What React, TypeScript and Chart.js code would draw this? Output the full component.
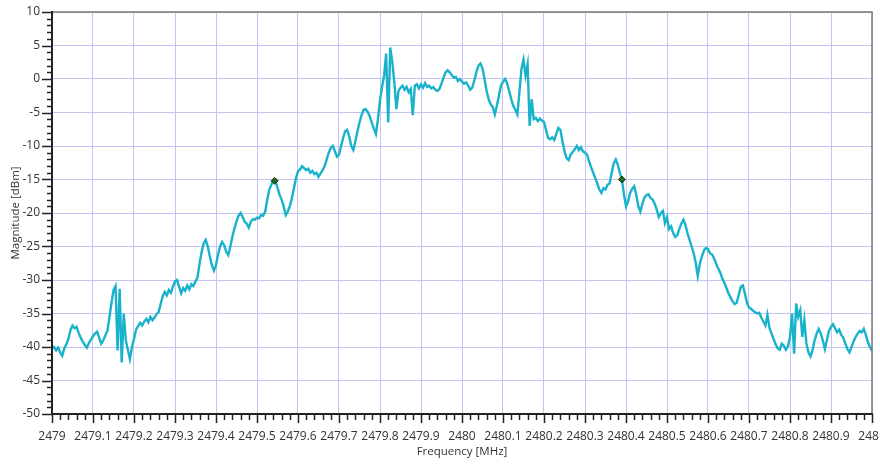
import React, { useEffect, useRef } from "react";
import { Chart, registerables } from "chart.js";

Chart.register(...registerables);

const FREQ_START = 2479.0;
const FREQ_STEP = 0.005;

const MAGNITUDE: number[] = [
  -40.2, -40.0, -40.5, -40.1, -40.8, -41.3, -40.2, -39.6, -38.8, -37.5, -36.8, -37.2, -37.0, -37.9, -38.6, -39.2, -39.7, -40.1, -39.4, -38.9,
  -38.4, -38.0, -37.7, -38.6, -39.5, -39.0, -38.3, -37.6, -35.6, -33.5, -31.5, -30.9, -40.5, -31.3, -42.3, -35.0, -39.0, -40.4, -41.8, -40.0,
  -38.8, -37.4, -36.9, -36.4, -36.8, -36.2, -35.8, -36.3, -35.5, -36.0, -35.6, -35.1, -34.8, -33.6, -32.4, -31.8, -32.3, -31.5, -31.9, -31.0,
  -30.2, -30.0, -31.0, -32.0, -31.2, -31.6, -30.8, -31.4, -30.6, -30.9, -30.2, -29.6, -27.5, -25.8, -24.5, -24.0, -25.0, -26.5, -27.8, -28.6,
  -27.8, -26.2, -25.0, -24.3, -24.8, -25.8, -26.3, -25.0, -23.5, -22.3, -21.3, -20.4, -20.0, -20.6, -21.3, -21.6, -22.2, -21.3, -20.9, -21.0,
  -20.7, -20.8, -20.3, -20.4, -19.8, -18.0, -16.5, -15.8, -15.1, -15.3, -16.2, -17.3, -18.0, -19.0, -20.3, -19.8, -19.0, -17.8, -16.3, -14.8,
  -13.8, -13.5, -13.0, -13.3, -13.6, -13.4, -14.0, -13.7, -14.2, -14.0, -14.6, -14.1, -13.6, -13.0, -12.0, -11.0, -10.3, -10.0, -10.8, -11.6,
  -11.3, -10.0, -8.8, -7.8, -7.6, -8.6, -10.0, -10.6, -9.3, -7.8, -6.5, -5.4, -4.6, -4.5, -4.9, -5.6, -6.5, -7.4, -8.2, -6.0,
  -3.2, -1.2, 0.5, 3.8, -6.5, 4.7, 2.5, -0.5, -4.5, -1.8, -1.3, -1.0, -1.6, -1.2, -2.0, -1.5, -5.4, -1.0, -0.8, -1.4,
  -0.8, -1.3, -0.6, -1.2, -1.0, -1.4, -1.2, -1.6, -1.8, -1.5, -0.7, 0.2, 1.0, 1.3, 1.0, 0.6, 0.2, 0.3, -0.3, 0.0,
  -0.4, -0.7, -0.5, -1.0, -1.6, -1.3, -0.2, 1.0, 2.0, 2.3, 1.6, 0.0, -1.8, -3.0, -3.8, -4.2, -5.3, -4.0, -2.5, -1.0,
  -0.4, 0.0, -0.6, -1.8, -3.0, -4.0, -4.6, -5.3, -2.0, 1.5, 2.9, 0.5, 2.2, -7.0, -3.0, -6.0, -5.8, -6.3, -5.9, -6.2,
  -6.4, -7.6, -8.8, -9.0, -8.7, -9.1, -8.2, -7.3, -7.6, -9.3, -10.8, -11.8, -12.1, -11.3, -10.9, -10.5, -10.0, -10.6, -10.2, -10.8,
  -11.0, -11.3, -12.3, -13.2, -14.0, -14.8, -15.6, -16.5, -17.0, -16.3, -16.5, -15.8, -15.6, -14.0, -12.6, -12.0, -12.8, -14.0, -15.0, -17.2,
  -19.0, -18.3, -17.0, -16.4, -16.0, -17.3, -19.0, -19.8, -18.6, -17.7, -17.3, -17.2, -17.8, -18.0, -18.6, -19.5, -20.6, -20.0, -19.7, -21.5,
  -20.6, -22.4, -22.0, -23.0, -23.6, -23.3, -22.4, -21.6, -21.0, -21.8, -23.0, -24.0, -25.0, -26.0, -27.4, -29.4, -27.6, -26.5, -25.6, -25.2,
  -25.4, -26.0, -26.2, -26.8, -27.6, -28.3, -28.9, -29.8, -30.4, -31.2, -32.0, -32.6, -33.2, -33.6, -33.4, -32.2, -31.0, -30.8, -32.0, -33.4,
  -34.1, -34.3, -34.6, -34.8, -35.0, -34.9, -35.6, -36.2, -36.8, -35.2, -37.2, -38.0, -38.8, -39.6, -40.2, -40.4, -39.5, -39.8, -40.4, -39.9,
  -38.5, -35.0, -41.0, -33.5, -35.5, -34.5, -38.5, -36.0, -39.5, -40.8, -41.4, -40.5, -39.0, -38.0, -37.3, -38.0, -39.0, -40.3, -39.0, -37.6,
  -37.0, -36.6, -37.2, -37.8, -37.4, -38.2, -38.6, -39.5, -40.3, -40.8, -40.0, -39.2, -38.5, -38.0, -37.6, -37.8, -37.3, -38.2, -39.3, -40.0,
  -40.6,
];

const MARKER_FREQ = [2479.543, 2480.39];
const MARKER_MAG = [-15.2, -15.0];

const X_MIN = 2479;
const X_MAX = 2481;
const X_MAJOR = 0.1;
const X_MINOR = 0.02;
const Y_MIN = -50;
const Y_MAX = 10;
const Y_MAJOR = 5;
const Y_MINOR = 1;

const X_TITLE = "Frequency [MHz]";
const Y_TITLE = "Magnitude [dBm]";

const FONT = "'Open Sans', 'Noto Sans', sans-serif";
const TEXT_COLOR = "#333333";
const GRID_COLOR = "#c4c4f0";
const LINE_COLOR = "#19b2cb";

const axisPlugin = {
  id: "axisDecor",
  afterDatasetsDraw(chart: any) {
    const { ctx, chartArea } = chart;
    const xs = chart.scales.x;
    const ys = chart.scales.y;
    const { left, right, top, bottom } = chartArea;
    ctx.save();
    ctx.strokeStyle = "#7a7a7a";
    ctx.lineWidth = 1.5;
    ctx.beginPath();
    ctx.moveTo(left, top);
    ctx.lineTo(right, top);
    ctx.lineTo(right, bottom);
    ctx.stroke();
    ctx.strokeStyle = "#222222";
    ctx.lineWidth = 2;
    ctx.beginPath();
    ctx.moveTo(left, top - 1);
    ctx.lineTo(left, bottom);
    ctx.lineTo(right + 1, bottom);
    ctx.stroke();
    ctx.lineWidth = 1.5;
    const nx = Math.round((X_MAX - X_MIN) / X_MINOR);
    for (let k = 0; k <= nx; k++) {
      const v = X_MIN + k * X_MINOR;
      const px = Math.round(xs.getPixelForValue(v)) + 0.5;
      const major = k % Math.round(X_MAJOR / X_MINOR) === 0;
      ctx.beginPath();
      ctx.moveTo(px, bottom);
      ctx.lineTo(px, bottom + (major ? 9 : 6));
      ctx.stroke();
    }
    const ny = Math.round((Y_MAX - Y_MIN) / Y_MINOR);
    for (let k = 0; k <= ny; k++) {
      const v = Y_MIN + k * Y_MINOR;
      const py = Math.round(ys.getPixelForValue(v)) + 0.5;
      const major = k % Math.round(Y_MAJOR / Y_MINOR) === 0;
      ctx.beginPath();
      ctx.moveTo(left, py);
      ctx.lineTo(left - (major ? 10 : 5), py);
      ctx.stroke();
    }
    ctx.restore();
  },
};

export default function App() {
  const canvasRef = useRef<HTMLCanvasElement | null>(null);

  useEffect(() => {
    const canvas = canvasRef.current;
    if (!canvas) return;
    const spectrum = MAGNITUDE.map((m, i) => ({ x: FREQ_START + i * FREQ_STEP, y: m }));
    const markers = MARKER_FREQ.map((f, i) => ({ x: f, y: MARKER_MAG[i] }));

    const chart = new Chart(canvas, {
      type: "line",
      data: {
        datasets: [
          {
            label: "Spectrum",
            data: spectrum,
            borderColor: LINE_COLOR,
            borderWidth: 2.4,
            pointRadius: 0,
            tension: 0,
            order: 2,
          },
          {
            label: "Markers",
            data: markers,
            showLine: false,
            pointStyle: "rectRot",
            pointRadius: 3.5,
            pointBackgroundColor: "#1f6a1f",
            pointBorderColor: "#0f3f0f",
            pointBorderWidth: 1,
            order: 1,
          },
        ],
      },
      plugins: [axisPlugin],
      options: {
        responsive: false,
        animation: false,
        events: [],
        layout: { padding: { top: 12, right: 8, left: 0, bottom: 0 } },
        plugins: { legend: { display: false }, tooltip: { enabled: false } },
        scales: {
          x: {
            type: "linear",
            min: X_MIN,
            max: X_MAX,
            afterFit: (s: any) => {
              s.height = 51;
              s.paddingLeft = 0;
              s.paddingRight = 0;
            },
            afterBuildTicks: (s: any) => {
              const t = [];
              const n = Math.round((X_MAX - X_MIN) / X_MAJOR);
              for (let k = 0; k <= n; k++) t.push({ value: X_MIN + k * X_MAJOR });
              s.ticks = t;
            },
            ticks: {
              autoSkip: false,
              maxRotation: 0,
              padding: 5,
              color: TEXT_COLOR,
              font: { family: FONT, size: 12 },
              callback: (v: any) => String(Number(Number(v).toFixed(1))),
            },
            grid: {
              color: GRID_COLOR,
              lineWidth: 1,
              drawTicks: true,
              tickLength: 10,
              tickColor: "rgba(0,0,0,0)",
            },
            border: { display: false },
            title: {
              display: true,
              text: X_TITLE,
              color: TEXT_COLOR,
              font: { family: FONT, size: 11.5 },
              padding: { top: 0, bottom: 6 },
            },
          },
          y: {
            type: "linear",
            min: Y_MIN,
            max: Y_MAX,
            afterFit: (s: any) => {
              s.width = 52;
              s.paddingTop = 0;
              s.paddingBottom = 0;
            },
            afterBuildTicks: (s: any) => {
              const t = [];
              const n = Math.round((Y_MAX - Y_MIN) / Y_MAJOR);
              for (let k = 0; k <= n; k++) t.push({ value: Y_MIN + k * Y_MAJOR });
              s.ticks = t;
            },
            ticks: {
              autoSkip: false,
              padding: 2,
              color: TEXT_COLOR,
              font: { family: FONT, size: 12 },
              callback: (v: any) => String(Math.round(Number(v))),
            },
            grid: {
              color: GRID_COLOR,
              lineWidth: 1,
              drawTicks: true,
              tickLength: 10,
              tickColor: "rgba(0,0,0,0)",
            },
            border: { display: false },
            title: {
              display: true,
              text: Y_TITLE,
              color: TEXT_COLOR,
              font: { family: FONT, size: 11.5 },
              padding: { top: 9, bottom: 0 },
            },
          },
        },
      },
    } as any);
    return () => chart.destroy();
  }, []);

  return (
    <div style={{ position: "absolute", left: 0, top: 0, width: 880, height: 465, background: "#ffffff" }}>
      <canvas ref={canvasRef} width={880} height={465} style={{ display: "block" }} />
    </div>
  );
}
